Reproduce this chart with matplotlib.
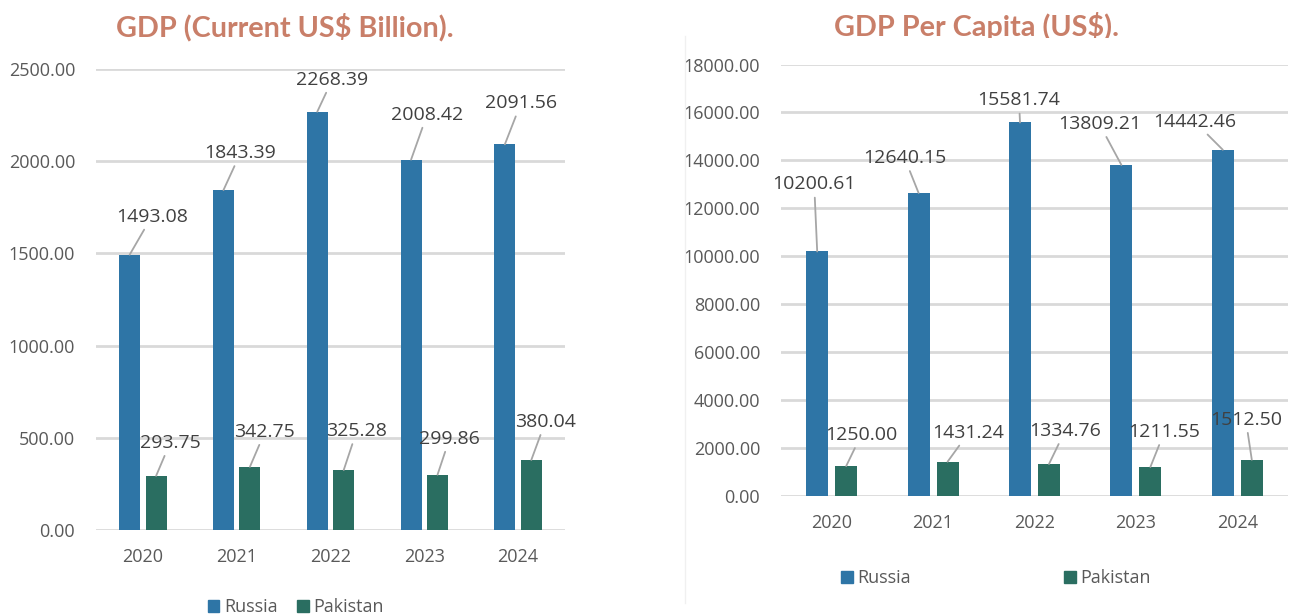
import matplotlib.pyplot as plt
import numpy as np
from matplotlib.patches import Patch
from matplotlib.transforms import Bbox, TransformedBbox

# data
years = ["2020", "2021", "2022", "2023", "2024"]
gdp_russia = [1493.08, 1843.39, 2268.39, 2008.42, 2091.56]
gdp_pakistan = [293.75, 342.75, 325.28, 299.86, 380.04]
pc_russia = [10200.61, 12640.15, 15581.74, 13809.21, 14442.46]
pc_pakistan = [1250.00, 1431.24, 1334.76, 1211.55, 1512.50]

# where each data label sits relative to its bar top (pixels)
gdp_russia_off = [(22, 38), (17, 37), (15, 32), (16, 45), (16, 41)]
gdp_pakistan_off = [(14, 33), (15, 35), (13, 39), (12, 36), (14, 38)]
pc_russia_off = [(-3, 67), (-14, 35), (-1, 22), (-22, 41), (-28, 28)]
pc_pakistan_off = [(15, 31), (21, 29), (16, 33), (14, 35), (-6, 40)]

RUSSIA = "#2E75A6"
PAKISTAN = "#2A6E61"
GRID = "#d9d9d9"
TICK = "#595959"
LABEL = "#404040"
TITLE = "#C97F69"

plt.rcParams["font.family"] = ["Open Sans", "DejaVu Sans"]

W, H = 1293, 616
fig = plt.figure(figsize=(W / 100, H / 100), dpi=100)


def panel(ax, russia, pakistan, r_off, p_off, ymax, step, width, shift):
    x = np.arange(len(years))
    ax.bar(x - shift, russia, width, color=RUSSIA, zorder=2)
    ax.bar(x + shift, pakistan, width, color=PAKISTAN, zorder=2)

    for xs, vals, offs in [(x - shift, russia, r_off), (x + shift, pakistan, p_off)]:
        for xi, v, (dx, dy) in zip(xs, vals, offs):
            ax.annotate(f"{v:.2f}", xy=(xi, v), xytext=(dx, dy),
                        textcoords="offset pixels", ha="center", va="center",
                        fontsize=14, color=LABEL, zorder=5,
                        arrowprops=dict(arrowstyle="-", color="#a6a6a6", lw=1.3,
                                        shrinkA=1, shrinkB=0))

    ax.set_xlim(-0.5, len(years) - 0.5)
    ax.set_ylim(0, ymax)
    ax.set_yticks(np.arange(0, ymax + 1, step))
    ax.set_yticklabels([f"{t:.2f}" for t in np.arange(0, ymax + 1, step)])
    ax.set_xticks(x)
    ax.set_xticklabels(years)
    ax.tick_params(axis="both", length=0, labelsize=13, colors=TICK)
    ax.tick_params(axis="y", pad=15)
    ax.tick_params(axis="x", pad=13)
    ax.yaxis.grid(True, color=GRID, lw=2, zorder=0)
    ax.set_axisbelow(True)
    for s in ax.spines.values():
        s.set_visible(False)


ax1 = fig.add_axes([96 / W, (H - 530) / H, 469 / W, 461 / H])
panel(ax1, gdp_russia, gdp_pakistan, gdp_russia_off, gdp_pakistan_off,
      2500, 500, 0.224, 0.141)

ax2 = fig.add_axes([781 / W, (H - 496) / H, 507 / W, 431.5 / H])
panel(ax2, pc_russia, pc_pakistan, pc_russia_off, pc_pakistan_off,
      18000, 2000, 0.217, 0.143)

# titles
fig.text(285 / W, 1 - 36 / H, "GDP (Current US$ Billion).", ha="center",
         va="baseline", fontsize=20.7, fontweight="bold", color=TITLE,
         family=["Lato", "DejaVu Sans"])
t2 = fig.text(976 / W, 1 - 36 / H, "GDP Per Capita (US$).", ha="center",
              va="baseline", fontsize=20.7, fontweight="bold", color=TITLE,
              family=["Lato", "DejaVu Sans"])
t2.set_clip_box(TransformedBbox(Bbox([[0, 1 - 37.5 / H], [1, 1]]), fig.transFigure))

# faint frame edge of the second panel
fig.add_artist(plt.Line2D([685 / W, 685 / W], [1 - 603 / H, 1 - 36 / H],
                          transform=fig.transFigure, color="#f0f0f0", lw=1))

handles = [Patch(color=RUSSIA), Patch(color=PAKISTAN)]
names = ["Russia", "Pakistan"]
fig.legend(handles, names, loc="center", bbox_to_anchor=(296 / W, 1 - 607 / H),
           ncol=2, frameon=False, fontsize=13, labelcolor=TICK,
           handlelength=0.65, handleheight=0.65, handletextpad=0.25,
           columnspacing=1.1, borderpad=0, borderaxespad=0)
fig.legend(handles, names, loc="center", bbox_to_anchor=(996 / W, 1 - 578 / H),
           ncol=2, frameon=False, fontsize=13, labelcolor=TICK,
           handlelength=0.65, handleheight=0.65, handletextpad=0.25,
           columnspacing=8.5, borderpad=0, borderaxespad=0)

fig.savefig("out.png", dpi=100, facecolor="white")
